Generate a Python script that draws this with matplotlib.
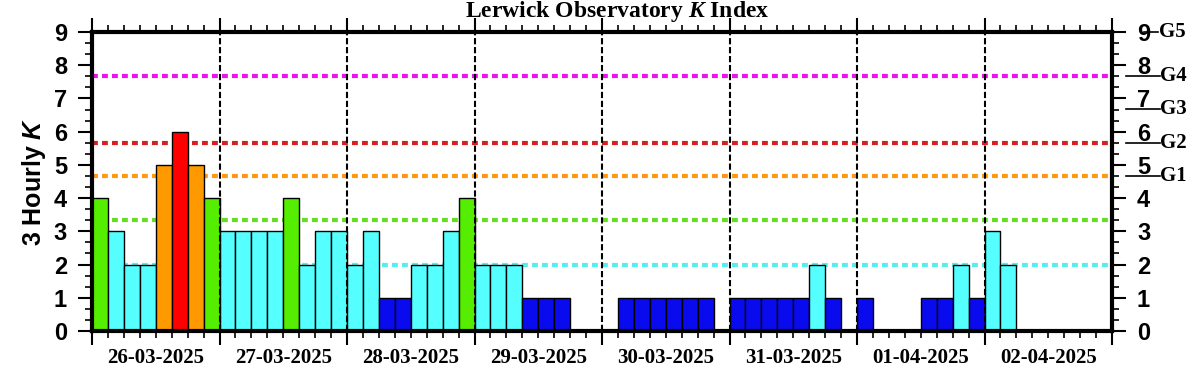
import numpy as np
import matplotlib
matplotlib.use("Agg")
import matplotlib.pyplot as plt
from matplotlib.ticker import FixedLocator, FixedFormatter

# 3-hourly K values, 8 per day (last day incomplete)
days = ["26-03-2025", "27-03-2025", "28-03-2025", "29-03-2025",
        "30-03-2025", "31-03-2025", "01-04-2025", "02-04-2025"]
k_index = [4, 3, 2, 2, 5, 6, 5, 4,
           3, 3, 3, 3, 4, 2, 3, 3,
           2, 3, 1, 1, 2, 2, 3, 4,
           2, 2, 2, 1, 1, 1, 0, 0,
           0, 1, 1, 1, 1, 1, 1, 0,
           1, 1, 1, 1, 1, 2, 1, 0,
           1, 0, 0, 0, 1, 1, 2, 1,
           3, 2]

# storm thresholds (dotted lines) and G scale marks on right
thresh_levels = [2.0, 3.33, 4.67, 5.67, 7.67]
thresh_colors = ["#55eeee", "#66dd22", "#ff9911", "#d42020", "#ee11ee"]
g_levels = [4.67, 5.67, 6.67, 7.67]
g_labels = ["G1", "G2", "G3", "G4"]

k_colors = {0: "#0a0aee", 1: "#0a0aee", 2: "#55ffff", 3: "#55ffff",
            4: "#55ee00", 5: "#ff9900", 6: "#ff0000", 7: "#ff0000",
            8: "#ee11ee", 9: "#ee11ee"}

sans = "Liberation Sans"
serif = "Liberation Serif"
plt.rcParams["mathtext.fontset"] = "custom"
plt.rcParams["mathtext.it"] = "Liberation Serif:italic:bold"
plt.rcParams["mathtext.sf"] = "Liberation Sans:italic:bold"

fig = plt.figure(figsize=(12.03, 3.75), dpi=100)
ax = fig.add_axes([92 / 1203, 1 - 331 / 375, 1020 / 1203, 299 / 375])

x = np.arange(len(k_index)) + 0.5
ax.bar(x, k_index, width=1.0, color=[k_colors[k] for k in k_index],
       edgecolor="black", linewidth=1.0, zorder=2)

for lev, col in zip(thresh_levels, thresh_colors):
    ax.axhline(lev, color=col, lw=3, linestyle=(0, (1.4, 1.0)), zorder=1)

n_days = len(days)
for d in range(1, n_days):
    ax.axvline(d * 8, color="black", lw=1.5, linestyle=(0, (3, 1.3)), zorder=3)

ax.set_xlim(0, n_days * 8)
ax.set_ylim(0, 9)

# x ticks: day boundaries major, 3-hour minor, date labels on minor
ax.xaxis.set_major_locator(FixedLocator(np.arange(0, n_days * 8 + 1, 8)))
ax.xaxis.set_major_formatter(FixedFormatter([""] * (n_days + 1)))
minor_pos = [p for p in range(n_days * 8) if p % 8 != 0]
minor_lab = [days[p // 8] if p % 8 == 4 else "" for p in minor_pos]
ax.xaxis.set_minor_locator(FixedLocator(minor_pos))
ax.xaxis.set_minor_formatter(FixedFormatter(minor_lab))
ax.tick_params(axis="x", which="major", length=10, width=1.5, direction="out",
               top=True, bottom=True)
ax.tick_params(axis="x", which="minor", length=5, width=1.2, direction="out",
               top=True, bottom=True, pad=7)
for lab in ax.xaxis.get_minorticklabels():
    lab.set_fontfamily(serif)
    lab.set_fontweight("bold")
    lab.set_fontsize(15)

# y ticks
ax.set_yticks(range(0, 10))
ax.yaxis.set_minor_locator(FixedLocator(np.arange(0, 9.01, 1 / 3)))
ax.tick_params(axis="y", which="major", length=10, width=1.5, direction="out",
               left=True, right=True, labelleft=True, labelright=True, pad=8)
ax.tick_params(axis="y", which="minor", length=5, width=1.2, direction="out",
               left=True, right=True)
for lab in ax.get_yticklabels(which="major"):
    lab.set_fontfamily(sans)
    lab.set_fontweight("bold")
    lab.set_fontsize(17)

for sp in ax.spines.values():
    sp.set_linewidth(3)

ax.set_ylabel("3 Hourly $\\mathsf{K}$", fontfamily=sans, fontweight="bold",
              fontsize=18, labelpad=4)

fig.text(617 / 1203, 1 - 12 / 375, "Lerwick Observatory $\\mathit{K}$ Index",
         ha="center", va="center", fontfamily=serif, fontweight="bold",
         fontsize=17)

# G scale marks on the right
tr = ax.get_yaxis_transform()
for lev, g in zip(g_levels, g_labels):
    ax.plot([1.0137, 1.047], [lev, lev], color="black", lw=1.2,
            transform=tr, clip_on=False)
    ax.text(1.047, lev, g, transform=tr, ha="left", va="center",
            fontfamily=serif, fontweight="bold", fontsize=15)
ax.plot([1.0315, 1.0455], [9, 9], color="black", lw=1.2, transform=tr,
        clip_on=False)
ax.text(1.0465, 9, "G5", transform=tr, ha="left", va="center",
        fontfamily=serif, fontweight="bold", fontsize=15)

fig.savefig("out.png", dpi=100)
